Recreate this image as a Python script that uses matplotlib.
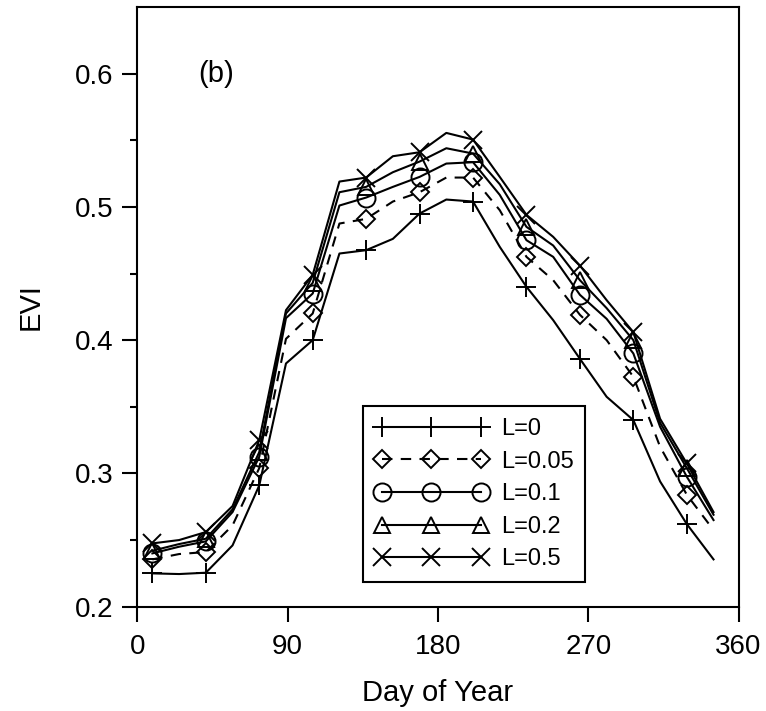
import matplotlib.pyplot as plt

plt.rcParams['font.family'] = ['Liberation Sans', 'DejaVu Sans']

#OUTPUT
FILE_OUTPUT_PATH = "out.png"

#Day of year of each 16-day composite
DAYS = [9, 25, 41, 57, 73, 89, 105, 121, 137, 153, 169, 185, 201, 217, 233, 249, 265, 281, 297, 313, 329, 345]

#EVI for each soil adjustment factor L
EVI_L0 = [0.225, 0.2245, 0.2255, 0.246, 0.291, 0.3825, 0.400, 0.465, 0.4675, 0.476, 0.495,
          0.5055, 0.504, 0.470, 0.440, 0.415, 0.386, 0.3575, 0.340, 0.294, 0.262, 0.2355]
EVI_L005 = [0.2355, 0.2395, 0.241, 0.261, 0.304, 0.401, 0.420, 0.4875, 0.491, 0.504, 0.511,
            0.522, 0.522, 0.4975, 0.4625, 0.445, 0.419, 0.400, 0.3725, 0.320, 0.284, 0.2575]
EVI_L01 = [0.240, 0.245, 0.249, 0.271, 0.3125, 0.4165, 0.435, 0.501, 0.507, 0.515, 0.5225,
           0.5325, 0.5335, 0.509, 0.475, 0.4625, 0.434, 0.416, 0.390, 0.335, 0.2975, 0.265]
EVI_L02 = [0.242, 0.247, 0.251, 0.273, 0.316, 0.420, 0.443, 0.511, 0.515, 0.526, 0.534,
           0.544, 0.540, 0.517, 0.485, 0.471, 0.445, 0.424, 0.400, 0.338, 0.304, 0.269]
EVI_L05 = [0.2475, 0.250, 0.256, 0.2755, 0.325, 0.4225, 0.449, 0.519, 0.522, 0.538, 0.541,
           0.5555, 0.5505, 0.5225, 0.494, 0.4775, 0.456, 0.430, 0.406, 0.341, 0.3075, 0.271]

SERIES = [EVI_L0, EVI_L005, EVI_L01, EVI_L02, EVI_L05]
NAMES = ["L=0", "L=0.05", "L=0.1", "L=0.2", "L=0.5"]
MARKERS = ['+', 'D', 'o', '^', 'x']
MARKER_SIZES = [14, 9, 13, 12, 13]
LINESTYLES = ['-', (0, (5, 4)), '-', '-', '-']

X_TICKS = [0, 90, 180, 270, 360]
Y_TICKS = [0.2, 0.3, 0.4, 0.5, 0.6]
Y_MINOR = [0.25, 0.35, 0.45, 0.55]

X_LABEL = "Day of Year"
Y_LABEL = "EVI"


def main():
    fig = plt.figure(figsize=(7.66, 7.11), dpi=100)
    ax = fig.add_axes([0.1793, 0.1467, 0.7849, 0.8435])

    for evi, name, marker, ms, ls in zip(SERIES, NAMES, MARKERS, MARKER_SIZES, LINESTYLES):
        ax.plot(DAYS, evi, linestyle=ls, color='black', linewidth=1.5,
                marker=marker, markersize=ms, markevery=(0, 2),
                markerfacecolor='none', markeredgecolor='black', markeredgewidth=1.4,
                label=name)

    ax.set_xlim(0, 360)
    ax.set_ylim(0.2, 0.65)
    ax.set_xticks(X_TICKS)
    ax.set_yticks(Y_TICKS)
    ax.set_yticks(Y_MINOR, minor=True)
    ax.set_yticklabels([str(t) for t in Y_TICKS])
    ax.tick_params(axis='both', which='major', direction='out', length=11, width=1.5,
                   labelsize=20)
    ax.tick_params(axis='x', which='major', pad=9)
    ax.tick_params(axis='y', which='major', pad=6)
    ax.tick_params(axis='y', which='minor', direction='out', length=5, width=1.5)
    for s in ax.spines.values():
        s.set_linewidth(1.5)

    ax.set_xlabel(X_LABEL, fontsize=21, labelpad=13)
    ax.set_ylabel(Y_LABEL, fontsize=21, labelpad=22)

    ax.text(47, 0.6, "(b)", fontsize=21, ha='center', va='center')

    leg = ax.legend(loc='upper left', bbox_to_anchor=(0.375, 0.3345), borderaxespad=0,
                    fontsize=17, numpoints=3, handlelength=4.8, handletextpad=0.55,
                    labelspacing=0.45, borderpad=0.5, fancybox=False, framealpha=1,
                    edgecolor='black')
    leg.get_frame().set_linewidth(1.5)

    fig.savefig(FILE_OUTPUT_PATH, dpi=100)
    plt.close(fig)


main()
